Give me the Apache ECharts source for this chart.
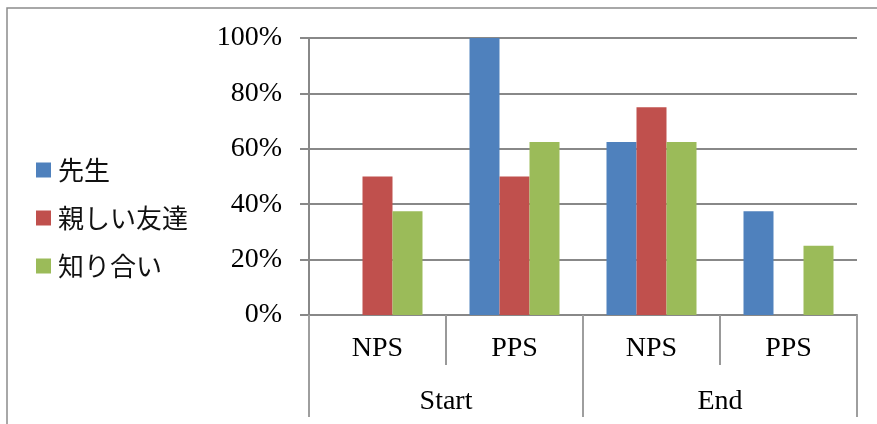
<!DOCTYPE html>
<html>
<head>
<meta charset="utf-8">
<script src="https://cdn.jsdelivr.net/npm/echarts@6/dist/echarts.min.js"></script>
<style>
  html, body { margin: 0; padding: 0; background: #fff; }
  #chart { width: 877px; height: 424px; }
</style>
</head>
<body>
<div id="chart"></div>
<script>
// Inner category labels (per phase) and outer phase labels
const stageLabels = ['NPS', 'PPS', 'NPS', 'PPS'];
const phaseLabels = ['Start', 'End'];

// Share of respondents (%) per relationship type
const seriesNames = ['先生', '親しい友達', '知り合い'];
const teacher = [0, 100, 62.5, 37.5];
const closeFriend = [50, 50, 75, 0];
const acquaintance = [37.5, 62.5, 62.5, 25];

// Value axis ticks
const yMin = 0, yMax = 100, yStep = 20;

const colors = ['#4F81BD', '#C0504D', '#9BBB59'];
const gridColor = '#888888';
const serif = '"Liberation Serif", "Times New Roman", serif';

const chart = echarts.init(document.getElementById('chart'), null, { renderer: 'canvas' });

function bar(name, values, color) {
  return {
    name: name,
    type: 'bar',
    data: values,
    barWidth: 30,
    barGap: '0%',
    itemStyle: { color: color },
    emphasis: { disabled: true }
  };
}

chart.setOption({
  animation: false,
  backgroundColor: '#ffffff',
  graphic: [{
    type: 'rect',
    shape: { x: 7, y: 8, width: 1000, height: 1000 },
    style: { fill: 'none', stroke: '#8c8c8c', lineWidth: 1.5 },
    silent: true
  }],
  legend: {
    orient: 'vertical',
    left: 36,
    top: 157,
    padding: 0,
    itemWidth: 15,
    itemHeight: 15,
    itemGap: 22,
    icon: 'rect',
    data: seriesNames,
    textStyle: {
      fontFamily: '"Noto Sans CJK JP", sans-serif',
      fontSize: 26,
      color: '#111',
      padding: [0, 0, 0, 2]
    }
  },
  grid: { left: 309, right: 20, top: 38, bottom: 109, containLabel: false },
  xAxis: [
    {
      type: 'category',
      position: 'bottom',
      data: stageLabels,
      boundaryGap: true,
      axisLine: { show: true, lineStyle: { color: gridColor, width: 2 } },
      axisTick: { show: true, interval: 0, length: 50, lineStyle: { color: '#999', width: 2 } },
      axisLabel: { interval: 0, margin: 20, fontFamily: serif, fontSize: 28, color: '#000' },
      splitLine: { show: false }
    },
    {
      type: 'category',
      position: 'bottom',
      data: phaseLabels,
      boundaryGap: true,
      axisLine: { show: false },
      axisTick: { show: true, interval: 0, length: 102, lineStyle: { color: '#9e9e9e', width: 2 } },
      axisLabel: { interval: 0, margin: 73, fontFamily: serif, fontSize: 28, color: '#000' },
      splitLine: { show: false }
    }
  ],
  yAxis: {
    type: 'value',
    min: yMin,
    max: yMax,
    interval: yStep,
    axisLine: { show: true, lineStyle: { color: gridColor, width: 2 } },
    axisTick: { show: true, length: 9, lineStyle: { color: gridColor, width: 2 } },
    axisLabel: { formatter: '{value}%', margin: 27, fontFamily: serif, fontSize: 28, color: '#000' },
    splitLine: { show: true, lineStyle: { color: gridColor, width: 2 } }
  },
  series: [
    bar(seriesNames[0], teacher, colors[0]),
    bar(seriesNames[1], closeFriend, colors[1]),
    bar(seriesNames[2], acquaintance, colors[2])
  ]
});
</script>
</body>
</html>
